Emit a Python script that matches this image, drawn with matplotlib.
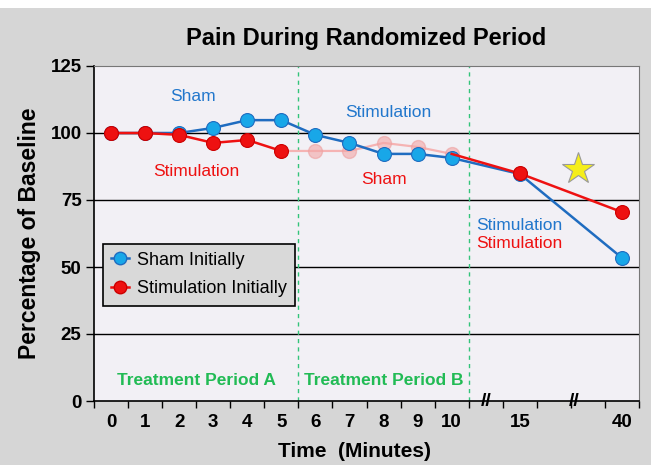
import numpy as np
import matplotlib.pyplot as plt
from matplotlib.patches import Rectangle

plt.rcParams['font.family'] = ['Liberation Sans', 'DejaVu Sans']

# categorias del eje x (minutos) y su posicion en el eje
tick_labels = ['0', '1', '2', '3', '4', '5', '6', '7', '8', '9', '10', '15', '40']
x_pos = [0, 1, 2, 3, 4, 5, 6, 7, 8, 9, 10, 12, 15]

# Sham inicialmente (azul)
sham_init = [100, 100, 100, 101.9, 104.8, 104.8, 99.3, 96.3, 92.2, 92.2, 90.7, 84.7, 53.4]
# Stimulation inicialmente (rojo)
stim_init = [100, 100, 99.3, 96.3, 97.4, 93.3, 93.3, 93.3, 96.3, 94.8, 92.2, 84.9, 70.5]

blue_line = '#1f6cc0'
blue_face = '#18a7e8'
red = '#ee1111'
green = '#22bb55'

fig = plt.figure(figsize=(6.51, 4.65), dpi=100, facecolor='#d6d6d6')
fig.patches.append(Rectangle((0, 1 - 8/465), 1, 8/465, transform=fig.transFigure,
                             facecolor='white', edgecolor='none', zorder=0))
ax = fig.add_axes([94/651, 64/465, 545/651, 335/465])
ax.set_facecolor('#f2f0f5')

# lineas horizontales
for yv in [25, 50, 75, 100]:
    ax.axhline(yv, color='black', lw=1, zorder=1)

# periodos
for xv in [5.5, 10.5]:
    ax.axvline(xv, color='#33c47a', lw=1, ls=(0, (3, 3)), zorder=1)

# rojo atenuado (periodo B)
ax.plot(x_pos[5:11], stim_init[5:11], color='#f5b3b3', lw=1.6, zorder=2)
ax.plot(x_pos[6:11], stim_init[6:11], 'o', ms=10, mfc='#f2a6a6', mec='#eda0a0',
        alpha=0.6, zorder=2)

# azul
ax.plot(x_pos, sham_init, '-o', color=blue_line, lw=1.8, ms=10,
        mfc=blue_face, mec=blue_line, mew=0.8, zorder=3)

# rojo solido
ax.plot(x_pos[:6], stim_init[:6], '-o', color=red, lw=1.8, ms=10,
        mfc=red, mec='#cc0000', mew=0.8, zorder=4)
ax.plot(x_pos[10:], stim_init[10:], '-', color=red, lw=1.8, zorder=4)
ax.plot(x_pos[11:], stim_init[11:], 'o', ms=10, mfc=red, mec='#cc0000', mew=0.8, zorder=4)

# leyenda
h1, = ax.plot([], [], '-o', color=blue_line, mfc=blue_face, mec=blue_line, ms=9, lw=1.8)
h2, = ax.plot([], [], '-o', color=red, mfc=red, mec='#cc0000', ms=9, lw=1.8)
leg = ax.legend([h1, h2], ['Sham Initially', 'Stimulation Initially'],
                loc='upper left', bbox_to_anchor=(0.016, 0.47), fontsize=13,
                fancybox=False, framealpha=1, facecolor='#d9d9d9', edgecolor='black',
                handlelength=1.0, handletextpad=0.45, borderpad=0.45, labelspacing=0.65,
                borderaxespad=0)
leg.get_frame().set_linewidth(1.2)
leg.set_zorder(5)

# textos
ax.text(2.4, 113.5, 'Sham', color='#2277cc', fontsize=12.5, ha='center', va='center')
ax.text(2.5, 85.5, 'Stimulation', color=red, fontsize=12.5, ha='center', va='center')
ax.text(8.15, 107.5, 'Stimulation', color='#2277cc', fontsize=12.5, ha='center', va='center')
ax.text(8.0, 82.5, 'Sham', color=red, fontsize=12.5, ha='center', va='center')
ax.text(12.0, 65.3, 'Stimulation', color='#2277cc', fontsize=12.5, ha='center', va='center')
ax.text(12.0, 58.6, 'Stimulation', color=red, fontsize=12.5, ha='center', va='center')
ax.plot([13.7], [86.6], marker='*', ms=24, mfc='#f5ee1a', mec='#999999', mew=0.8, zorder=4)
ax.text(2.5, 7.8, 'Treatment Period A', color=green, fontsize=12.5, fontweight='bold',
        ha='center', va='center')
ax.text(8.0, 7.8, 'Treatment Period B', color=green, fontsize=12.5, fontweight='bold',
        ha='center', va='center')

# ejes
ax.set_xlim(-0.5, 15.5)
ax.set_ylim(0, 125)
ax.set_xticks(np.arange(-0.5, 16, 1))
ax.set_xticklabels([])
ax.tick_params(axis='x', length=5, width=1, direction='out')
for xp, lab in zip(x_pos, tick_labels):
    ax.text(xp, -8, lab, ha='center', va='center', fontsize=13.5, fontweight='bold',
            clip_on=False)
ax.set_yticks([0, 25, 50, 75, 100, 125])
ax.tick_params(axis='y', length=6, width=1, direction='out', labelsize=13.5, pad=3)
for t in ax.get_yticklabels():
    t.set_fontweight('bold')

for s in ['left', 'bottom']:
    ax.spines[s].set_color('black')
    ax.spines[s].set_linewidth(1.2)
for s in ['top', 'right']:
    ax.spines[s].set_color('#777777')
    ax.spines[s].set_linewidth(0.8)

# marcas de corte
for xb in [11, 13.6]:
    ax.text(xb, 0, '//', ha='center', va='center', fontsize=14, fontweight='bold',
            clip_on=False, zorder=6)

fig.text(366/651, 1 - 38/465, 'Pain During Randomized Period', ha='center', va='center',
         fontsize=17, fontweight='bold')
fig.text(354/651, 1 - 451/465, 'Time  (Minutes)', ha='center', va='center',
         fontsize=15, fontweight='bold')
fig.text(30/651, 1 - 233/465, 'Percentage of Baseline', ha='center', va='center',
         rotation=90, fontsize=16.5, fontweight='bold')

fig.savefig('out.png', dpi=100, facecolor=fig.get_facecolor())
